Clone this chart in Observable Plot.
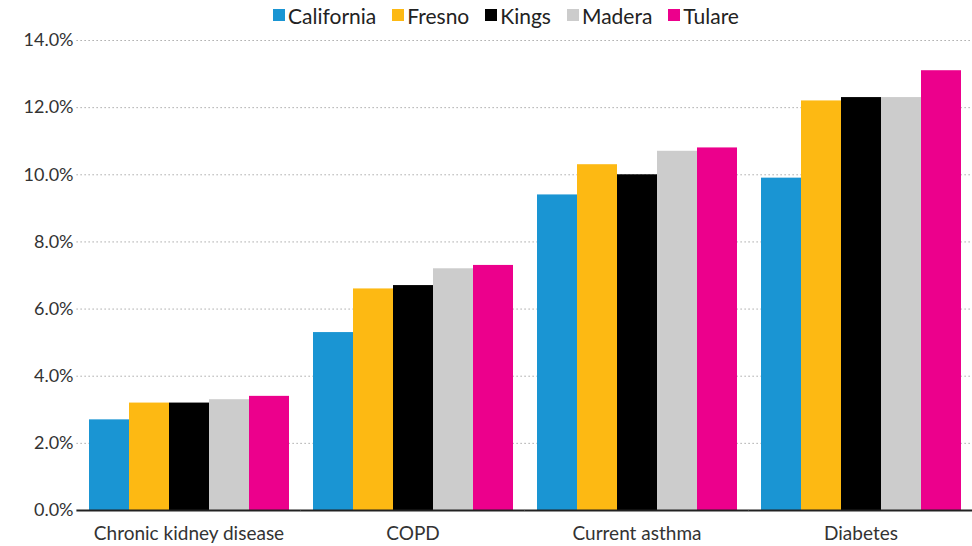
<!DOCTYPE html>
<html><head><meta charset="utf-8">
<script src="https://cdn.jsdelivr.net/npm/d3@7"></script>
<script src="https://cdn.jsdelivr.net/npm/@observablehq/plot@0.6"></script>
<style>
body{margin:0;background:#fff;font-family:Lato,"Open Sans",sans-serif;}
#legend{height:22px;padding-top:4px;display:flex;justify-content:center;align-items:center;gap:16px;font-size:21px;color:#222;padding-left:40px;}
#legend span.sw{display:inline-block;width:12px;height:12px;margin-right:3px;}
#legend .it{display:flex;align-items:center;}
</style></head>
<body>
<div id="legend"></div>
<div id="chart"></div>
<script>
const categories = ["Chronic kidney disease","COPD","Current asthma","Diabetes"];
const series = ["California","Fresno","Kings","Madera","Tulare"];
const colors = ["#1a95d3","#fdb913","#000000","#cccccc","#ec008c"];
const California = [2.7, 5.3, 9.4, 9.9];
const Fresno = [3.2, 6.6, 10.3, 12.2];
const Kings = [3.2, 6.7, 10.0, 12.3];
const Madera = [3.3, 7.2, 10.7, 12.3];
const Tulare = [3.4, 7.3, 10.8, 13.1];
const yTicks = [0,2,4,6,8,10,12,14];

const values = {California, Fresno, Kings, Madera, Tulare};
const data = [];
categories.forEach((c,i)=>series.forEach(s=>data.push({category:c, series:s, value:values[s][i]})));

const leg = document.getElementById("legend");
series.forEach((s,i)=>{
  const d=document.createElement("div");d.className="it";
  d.innerHTML=`<span class="sw" style="background:${colors[i]}"></span>${s}`;
  leg.appendChild(d);
});

const chart = Plot.plot({
  width: 972, height: 520,
  marginLeft: 76, marginRight: 0, marginTop: 14, marginBottom: 36,
  style: {fontFamily: "Lato, 'Open Sans', sans-serif", fontSize: "18px", color: "#333"},
  fx: {domain: categories, paddingInner: 0.094, paddingOuter: 0.045, label: null, axis: null},
  x: {domain: series, padding: 0, axis: null},
  y: {domain: [0,14], label: null, axis: null},
  color: {domain: series, range: colors},
  marks: [
    Plot.ruleY(yTicks.filter(d => d > 0), {stroke: "#aaa", strokeOpacity: 1, strokeDasharray: "1.5,2.5", insetLeft: -10.6, insetRight: -10.6}),
    Plot.barY(data, {fx: "category", x: "series", y: "value", fill: "series"}),
    Plot.ruleY([0], {stroke: "#222", strokeWidth: 2, insetLeft: -10.6, insetRight: -10.6}),
    Plot.axisY(yTicks, {tickFormat: d => d.toFixed(1) + "%", tickSize: 0, tickPadding: 14, label: null, fontSize: 18}),
    Plot.axisFx({anchor: "bottom", tickSize: 0, tickPadding: 16, label: null, fontSize: 19})
  ]
});
document.getElementById("chart").appendChild(chart);
</script>
</body></html>
